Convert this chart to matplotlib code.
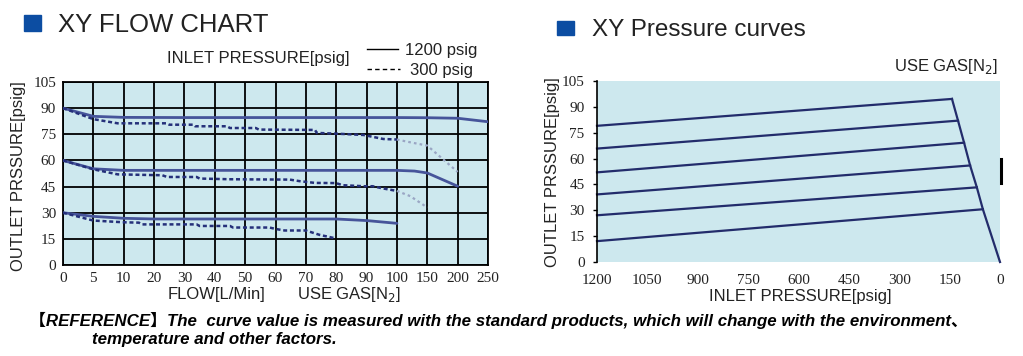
import numpy as np
import matplotlib
matplotlib.use("Agg")
import matplotlib.pyplot as plt
from matplotlib.patches import Rectangle
from matplotlib.lines import Line2D

# ---------------- data ----------------
flow_ticks = [0, 5, 10, 20, 30, 40, 50, 60, 70, 80, 90, 100, 150, 200, 250]
outlet_ticks = [0, 15, 30, 45, 60, 75, 90, 105]

# 1200 psig inlet (solid)
hi90_x = [0, 5, 10, 30, 100, 150, 200, 250]
hi90_y = [90, 85.3, 84.7, 84.6, 84.6, 84.5, 84.2, 82.2]
hi60_x = [0, 5, 10, 100, 129, 150, 200]
hi60_y = [60, 55.2, 54.3, 54.3, 53.9, 52.8, 45.2]
hi30_x = [0, 5, 10, 20, 80, 90, 100]
hi30_y = [30, 27.9, 26.8, 26.4, 26.4, 25.5, 23.9]

# 300 psig inlet (dotted)
lo90_x = [0, 5, 9, 24, 25, 33, 33.5, 44, 45, 53.5, 54.5, 73, 73.6, 82, 89, 95.5, 100]
lo90_y = [90, 83.7, 81.3, 81.3, 80.5, 80.5, 79.6, 79.6, 78.6, 78.6, 77.7, 77.5, 75.8, 75.2, 74.6, 72.3, 72.0]
lo90_tail_x = [100, 122, 150, 200]
lo90_tail_y = [72.0, 70.4, 68.5, 53.4]
lo60_x = [0, 5, 9, 22.7, 24.3, 34, 35, 45, 64.7, 68, 73, 80, 82, 89, 92, 95.5, 100]
lo60_y = [60, 54.9, 52.0, 51.5, 50.5, 50.5, 49.6, 49.2, 49.0, 48.1, 47.1, 47.0, 45.8, 45.2, 45.2, 43.9, 42.5]
lo60_tail_x = [100, 122, 150]
lo60_tail_y = [42.5, 39.5, 33.0]
lo30_x = [0, 5, 10, 15, 16, 34, 35, 45, 46, 58, 60.3, 63, 70, 74.5, 79.5]
lo30_y = [30, 25.5, 24.5, 24.3, 23.3, 23.3, 22.4, 22.4, 21.5, 21.5, 20.6, 19.8, 19.8, 17.3, 15.4]

# pressure curves (right chart)
inlet_ticks = [1200, 1050, 900, 750, 600, 450, 300, 150, 0]
start_outlet = [79.0, 65.8, 52.0, 39.2, 27.1, 12.1]      # at 1200 psig inlet
end_inlet = [143, 125, 107, 89, 69, 51]
end_outlet = [94.6, 82.0, 69.2, 56.0, 43.3, 30.6]

# ---------------- styling ----------------
BG = "#cde8ee"
SOLID = "#46549a"
DOT = "#25307a"
TAIL = "#9aa6c4"
NAVY = "#232c6b"
SQ = "#0c4da2"
TXT = "#222222"
SANS = ["Liberation Sans", "DejaVu Sans"]
SERIF = ["Liberation Serif", "DejaVu Serif"]
TICKFS = 11

W, H = 1023, 356
fig = plt.figure(figsize=(W / 100, H / 100), dpi=100)


def fx(px):
    return px / W


def fy(py):
    return 1 - py / H


# ---------------- left chart ----------------
pos = np.arange(len(flow_ticks), dtype=float)


def fwd(x):
    return np.interp(x, flow_ticks, pos)


def inv(p):
    return np.interp(p, pos, flow_ticks)


axL = fig.add_axes([fx(63), fy(265), fx(488) - fx(63), fy(82) - fy(265)])
axL.set_facecolor(BG)
axL.set_xscale("function", functions=(fwd, inv))
axL.set_xlim(0, 250)
axL.set_ylim(0, 105)
axL.set_xticks(flow_ticks)
axL.set_xticklabels([str(v) for v in flow_ticks], family=SERIF, fontsize=TICKFS, color=TXT)
axL.set_yticks(outlet_ticks)
axL.set_yticklabels([str(v) for v in outlet_ticks], family=SERIF, fontsize=TICKFS, color=TXT)
axL.tick_params(axis="both", length=0)
axL.tick_params(axis="x", pad=5)
axL.tick_params(axis="y", pad=5)
axL.grid(True, color="black", linewidth=1.3)
axL.set_axisbelow(True)
for s in axL.spines.values():
    s.set_color("black")
    s.set_linewidth(1.3)

for xs, ys in [(hi90_x, hi90_y), (hi60_x, hi60_y), (hi30_x, hi30_y)]:
    axL.plot(xs, ys, color=SOLID, lw=2.0, solid_capstyle="round", zorder=3)
for xs, ys in [(lo90_x, lo90_y), (lo60_x, lo60_y), (lo30_x, lo30_y)]:
    axL.plot(xs, ys, color=DOT, lw=1.8, linestyle=(0, (1.6, 1.1)), zorder=3)
for xs, ys in [(lo90_tail_x, lo90_tail_y), (lo60_tail_x, lo60_tail_y)]:
    axL.plot(xs, ys, color=TAIL, lw=1.6, linestyle=(0, (1.2, 1.4)), zorder=3)

fig.text(fx(19), fy(176), "OUTLET PRSSURE[psig]", rotation=90, ha="center", va="center",
         family=SANS, fontsize=12, color=TXT)
fig.text(fx(168), fy(295), "FLOW[L/Min]", ha="left", va="center", family=SANS, fontsize=12, color=TXT)
fig.text(fx(297), fy(295), "USE GAS[N$_2$]", ha="left", va="center", family=SANS, fontsize=12, color=TXT)

# header / legend
fig.patches.append(Rectangle((fx(24), fy(31)), fx(41) - fx(24), fy(15) - fy(31),
                             transform=fig.transFigure, color=SQ))
fig.text(fx(58), fy(32), "XY FLOW CHART", ha="left", va="baseline", family=SANS,
         fontsize=18.5, color=TXT)
fig.text(fx(167), fy(63), "INLET PRESSURE[psig]", ha="left", va="baseline", family=SANS,
         fontsize=12, color=TXT)
fig.add_artist(Line2D([fx(367), fx(398)], [fy(49), fy(49)], color="black", lw=1.0))
fig.add_artist(Line2D([fx(367), fx(400)], [fy(69), fy(69)], color="black", lw=1.0,
                      linestyle=(0, (3.2, 2.3))))
fig.text(fx(405), fy(55), "1200 psig", ha="left", va="baseline", family=SANS, fontsize=12, color=TXT)
fig.text(fx(410), fy(75), "300 psig", ha="left", va="baseline", family=SANS, fontsize=12, color=TXT)

# ---------------- right chart ----------------
axR = fig.add_axes([fx(597), fy(262), fx(1000) - fx(597), fy(81) - fy(262)])
axR.set_facecolor(BG)
axR.set_xlim(1200, 0)
axR.set_ylim(0, 105)
axR.set_xticks(inlet_ticks)
axR.set_xticklabels([str(v) for v in inlet_ticks], family=SERIF, fontsize=TICKFS, color=TXT)
axR.set_yticks(outlet_ticks)
axR.set_yticklabels([str(v) for v in outlet_ticks], family=SERIF, fontsize=TICKFS, color=TXT)
axR.tick_params(axis="x", length=0, pad=9)
axR.tick_params(axis="y", length=3, width=1, pad=6, color="black")
for k in ["top", "right", "bottom"]:
    axR.spines[k].set_visible(False)
axR.spines["left"].set_color("black")
axR.spines["left"].set_linewidth(1.2)

for s0, xe, ye in zip(start_outlet, end_inlet, end_outlet):
    axR.plot([1200, xe], [s0, ye], color=NAVY, lw=1.6, clip_on=False)
axR.plot(end_inlet + [0], end_outlet + [0], color=NAVY, lw=1.6, clip_on=False)

fig.text(fx(553), fy(172), "OUTLET PRSSURE[psig]", rotation=90, ha="center", va="center",
         family=SANS, fontsize=12, color=TXT)
fig.text(fx(800), fy(297), "INLET PRESSURE[psig]", ha="center", va="center",
         family=SANS, fontsize=12, color=TXT)
fig.text(fx(998), fy(71), "USE GAS[N$_2$]", ha="right", va="baseline", family=SANS,
         fontsize=12, color=TXT)
fig.patches.append(Rectangle((fx(557), fy(35)), fx(574) - fx(557), fy(21) - fy(35),
                             transform=fig.transFigure, color=SQ))
fig.text(fx(592), fy(36), "XY Pressure curves", ha="left", va="baseline", family=SANS,
         fontsize=17.5, color=TXT)
# stray mark in the original picture
fig.add_artist(Line2D([fx(1001), fx(1001)], [fy(159), fy(183)], color="black", lw=2.2))

# ---------------- footer ----------------
FOOT = ["Liberation Sans", "Noto Sans CJK SC"]
FOOTFS = 12.2
fig.text(fx(29), fy(326),
         "【REFERENCE】The  curve value is measured with the standard products, which will change with the environment、",
         ha="left", va="baseline", family=FOOT, fontsize=FOOTFS, fontweight="bold", fontstyle="italic",
         color="black")
fig.text(fx(92), fy(344), "temperature and other factors.", ha="left", va="baseline",
         family=FOOT, fontsize=FOOTFS, fontweight="bold", fontstyle="italic", color="black")

fig.savefig("out.png", dpi=100)
